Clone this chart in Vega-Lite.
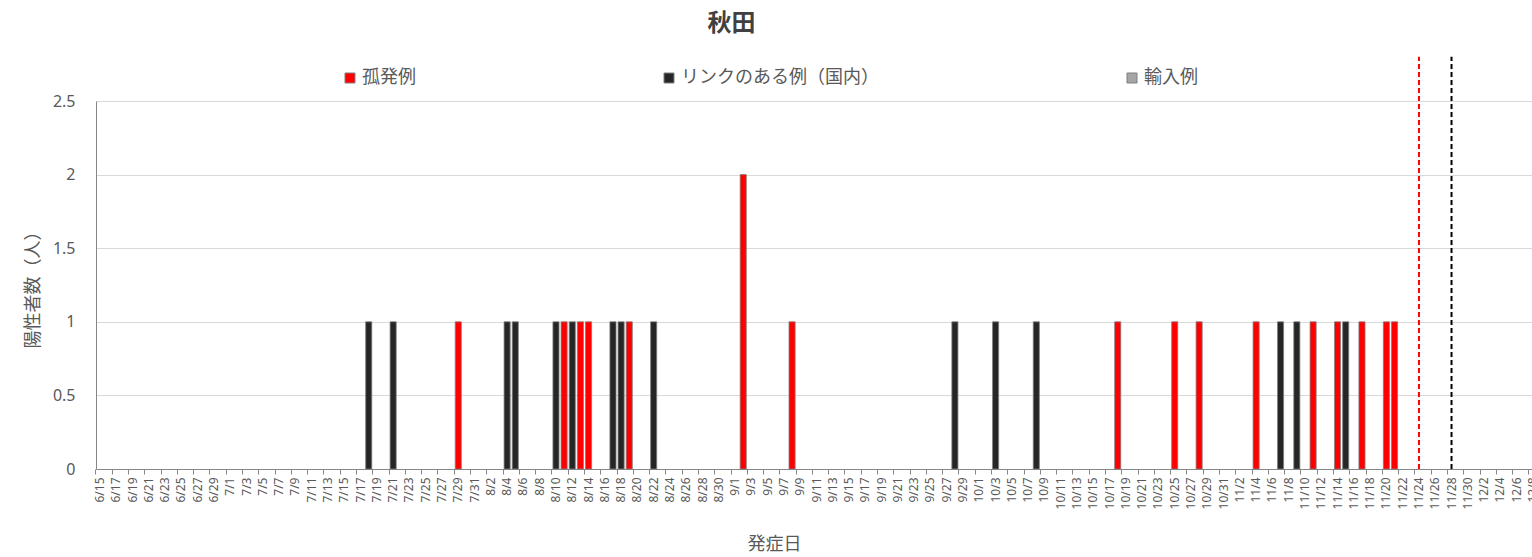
{
  "$schema": "https://vega.github.io/schema/vega-lite/v6.json",
  "width": 1441,
  "height": 368,
  "autosize": {"type": "none"},
  "padding": {"left": 96, "top": 101, "right": -5, "bottom": 88},
  "background": "white",
  "config": {"view": {"stroke": null}, "font": "Noto Sans CJK JP"},
  "title": {"text": "秋田", "fontSize": 24, "fontWeight": "bold", "color": "#404040", "anchor": "middle", "frame": "group", "dx": -85, "baseline": "alphabetic", "offset": 1, "font": "Noto Sans CJK JP"},
  "datasets": {
    "cases": [
      {"date": "7/18", "type": "リンクのある例（国内）", "count": 1},
      {"date": "7/21", "type": "リンクのある例（国内）", "count": 1},
      {"date": "7/29", "type": "孤発例", "count": 1},
      {"date": "8/4", "type": "リンクのある例（国内）", "count": 1},
      {"date": "8/5", "type": "リンクのある例（国内）", "count": 1},
      {"date": "8/10", "type": "リンクのある例（国内）", "count": 1},
      {"date": "8/11", "type": "孤発例", "count": 1},
      {"date": "8/12", "type": "リンクのある例（国内）", "count": 1},
      {"date": "8/13", "type": "孤発例", "count": 1},
      {"date": "8/14", "type": "孤発例", "count": 1},
      {"date": "8/17", "type": "リンクのある例（国内）", "count": 1},
      {"date": "8/18", "type": "リンクのある例（国内）", "count": 1},
      {"date": "8/19", "type": "孤発例", "count": 1},
      {"date": "8/22", "type": "リンクのある例（国内）", "count": 1},
      {"date": "9/2", "type": "孤発例", "count": 2},
      {"date": "9/8", "type": "孤発例", "count": 1},
      {"date": "9/28", "type": "リンクのある例（国内）", "count": 1},
      {"date": "10/3", "type": "リンクのある例（国内）", "count": 1},
      {"date": "10/8", "type": "リンクのある例（国内）", "count": 1},
      {"date": "10/18", "type": "孤発例", "count": 1},
      {"date": "10/25", "type": "孤発例", "count": 1},
      {"date": "10/28", "type": "孤発例", "count": 1},
      {"date": "11/4", "type": "孤発例", "count": 1},
      {"date": "11/7", "type": "リンクのある例（国内）", "count": 1},
      {"date": "11/9", "type": "リンクのある例（国内）", "count": 1},
      {"date": "11/11", "type": "孤発例", "count": 1},
      {"date": "11/14", "type": "孤発例", "count": 1},
      {"date": "11/15", "type": "リンクのある例（国内）", "count": 1},
      {"date": "11/17", "type": "孤発例", "count": 1},
      {"date": "11/20", "type": "孤発例", "count": 1},
      {"date": "11/21", "type": "孤発例", "count": 1}
    ],
    "line1": [{"date": "11/24", "top": 2.8, "bottom": 0}],
    "line2": [{"date": "11/28", "top": 2.8, "bottom": 0}]
  },
  "encoding": {
    "x": {
      "field": "date",
      "type": "ordinal",
      "sort": null,
      "scale": {
        "type": "band",
        "paddingInner": 0.25,
        "paddingOuter": 0.125,
        "domain": ["6/15","6/16","6/17","6/18","6/19","6/20","6/21","6/22","6/23","6/24","6/25","6/26","6/27","6/28","6/29","6/30",
          "7/1","7/2","7/3","7/4","7/5","7/6","7/7","7/8","7/9","7/10","7/11","7/12","7/13","7/14","7/15","7/16","7/17","7/18","7/19","7/20","7/21","7/22","7/23","7/24","7/25","7/26","7/27","7/28","7/29","7/30","7/31",
          "8/1","8/2","8/3","8/4","8/5","8/6","8/7","8/8","8/9","8/10","8/11","8/12","8/13","8/14","8/15","8/16","8/17","8/18","8/19","8/20","8/21","8/22","8/23","8/24","8/25","8/26","8/27","8/28","8/29","8/30","8/31",
          "9/1","9/2","9/3","9/4","9/5","9/6","9/7","9/8","9/9","9/10","9/11","9/12","9/13","9/14","9/15","9/16","9/17","9/18","9/19","9/20","9/21","9/22","9/23","9/24","9/25","9/26","9/27","9/28","9/29","9/30",
          "10/1","10/2","10/3","10/4","10/5","10/6","10/7","10/8","10/9","10/10","10/11","10/12","10/13","10/14","10/15","10/16","10/17","10/18","10/19","10/20","10/21","10/22","10/23","10/24","10/25","10/26","10/27","10/28","10/29","10/30","10/31",
          "11/1","11/2","11/3","11/4","11/5","11/6","11/7","11/8","11/9","11/10","11/11","11/12","11/13","11/14","11/15","11/16","11/17","11/18","11/19","11/20","11/21","11/22","11/23","11/24","11/25","11/26","11/27","11/28","11/29","11/30",
          "12/1","12/2","12/3","12/4","12/5","12/6","12/7","12/8"]
      },
      "axis": {
        "title": "発症日",
        "titleFontSize": 18,
        "titleFontWeight": "normal",
        "titleColor": "#595959",
        "titleX": 678,
        "titleY": 75,
        "titleBaseline": "middle",
        "titleAlign": "center",
        "values": ["6/15","6/17","6/19","6/21","6/23","6/25","6/27","6/29","7/1","7/3","7/5","7/7","7/9","7/11","7/13","7/15","7/17","7/19","7/21","7/23","7/25","7/27","7/29","7/31","8/2","8/4","8/6","8/8","8/10","8/12","8/14","8/16","8/18","8/20","8/22","8/24","8/26","8/28","8/30","9/1","9/3","9/5","9/7","9/9","9/11","9/13","9/15","9/17","9/19","9/21","9/23","9/25","9/27","9/29","10/1","10/3","10/5","10/7","10/9","10/11","10/13","10/15","10/17","10/19","10/21","10/23","10/25","10/27","10/29","10/31","11/2","11/4","11/6","11/8","11/10","11/12","11/14","11/16","11/18","11/20","11/22","11/24","11/26","11/28","11/30","12/2","12/4","12/6","12/8"],
        "labelAngle": -90,
        "labelFontSize": 12,
        "labelFont": "Noto Sans",
        "labelColor": "#595959",
        "labelPadding": 3,
        "bandPosition": -0.1667,
        "tickColor": "#868686",
        "tickSize": 5,
        "domainColor": "#868686",
        "grid": false,
        "labelOverlap": false
      }
    }
  },
  "layer": [
    {
      "data": {"name": "cases"},
      "mark": {"type": "bar", "stroke": "#7f7f7f", "strokeWidth": 0.8},
      "encoding": {
        "y": {
          "field": "count",
          "type": "quantitative",
          "scale": {"domain": [0, 2.5], "nice": false},
          "axis": {
            "title": "陽性者数（人）",
            "titleFontSize": 18,
            "titleFontWeight": "normal",
            "titleColor": "#595959",
            "titleX": -63,
            "titleY": 184,
            "titleBaseline": "middle",
            "titleAlign": "center",
            "values": [0, 0.5, 1, 1.5, 2, 2.5],
            "format": "~g",
            "labelFontSize": 16,
            "labelFont": "Noto Sans",
            "labelColor": "#595959",
            "labelPadding": 21,
            "ticks": false,
            "domainColor": "#868686",
            "gridColor": "#d9d9d9",
            "gridWidth": 1
          }
        },
        "color": {
          "field": "type",
          "type": "nominal",
          "scale": {"domain": ["孤発例", "リンクのある例（国内）", "輸入例"], "range": ["#ff0000", "#262626", "#a5a5a5"]},
          "legend": {
            "orient": "none",
            "legendX": 245,
            "legendY": -32,
            "direction": "horizontal",
            "columns": 3,
            "columnPadding": 244,
            "title": null,
            "symbolType": "square",
            "symbolSize": 100,
            "symbolStrokeColor": "#7f7f7f",
            "symbolStrokeWidth": 1,
            "labelFontSize": 18,
            "labelLimit": 0,
            "labelColor": "#595959",
            "labelOffset": 3,
            "padding": 0,
            "labelFont": "Noto Sans CJK JP"
          }
        }
      }
    },
    {
      "data": {"name": "line1"},
      "mark": {"type": "rule", "color": "#ff0000", "strokeWidth": 2, "strokeDash": [5, 3]},
      "encoding": {
        "y": {"field": "bottom", "type": "quantitative"},
        "y2": {"field": "top"}
      }
    },
    {
      "data": {"name": "line2"},
      "mark": {"type": "rule", "color": "#000000", "strokeWidth": 2, "strokeDash": [5, 3]},
      "encoding": {
        "y": {"field": "bottom", "type": "quantitative"},
        "y2": {"field": "top"}
      }
    }
  ]
}
